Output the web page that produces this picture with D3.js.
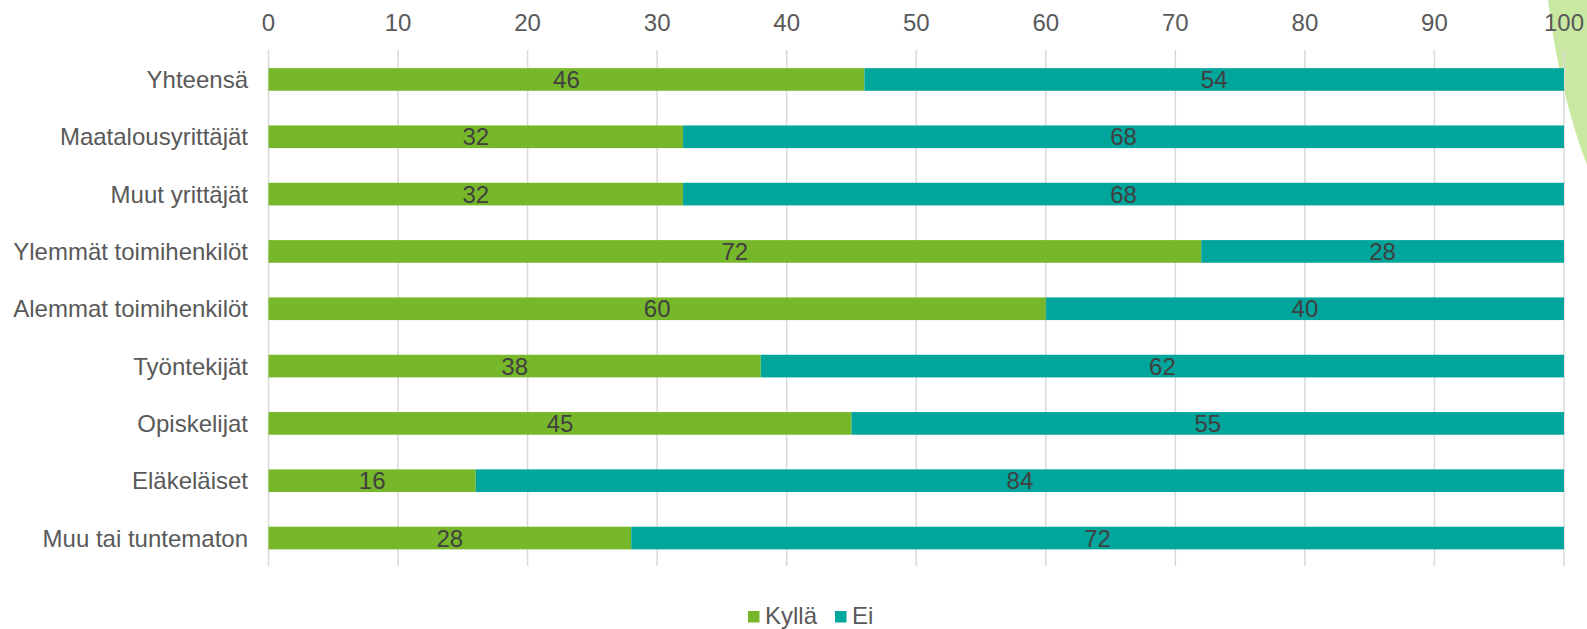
<!DOCTYPE html>
<html><head><meta charset="utf-8">
<script src="https://cdn.jsdelivr.net/npm/d3@7"></script>
<style>body{margin:0;background:#fff;}svg{display:block;}</style>
</head><body>
<svg id="c" width="1587" height="629"></svg>
<script>
const categories = ["Yhteensä","Maatalousyrittäjät","Muut yrittäjät","Ylemmät toimihenkilöt","Alemmat toimihenkilöt","Työntekijät","Opiskelijat","Eläkeläiset","Muu tai tuntematon"];
const kylla = [46,32,32,72,60,38,45,16,28];
const ei = [54,68,68,28,40,62,55,84,72];
const seriesNames = ["Kyllä","Ei"];
const seriesColors = ["#77b82a","#00a59b"];
const xTicks = [0,10,20,30,40,50,60,70,80,90,100];

const svg = d3.select("#c");
const font = "'Liberation Sans', Arial, sans-serif";
const fs = 24;

// decoration leaf at top right
svg.append("path")
  .attr("d","M1548,0 Q1560,95 1587,165 L1587,0 Z")
  .attr("fill","#c9e9a3");

const x = d3.scaleLinear().domain([0,100]).range([268.5,1564]);
const y = d3.scaleBand().domain(categories).range([50.8,566.7]).paddingInner(0.605).paddingOuter(0.3025);

// gridlines
svg.append("g").selectAll("line").data(xTicks).join("line")
  .attr("x1",d=>x(d)).attr("x2",d=>x(d)).attr("y1",50).attr("y2",566)
  .attr("stroke","#d9d9d9").attr("stroke-width",1.5);

// tick labels
svg.append("g").selectAll("text").data(xTicks).join("text")
  .attr("x",d=>x(d)).attr("y",30.5).attr("text-anchor","middle")
  .attr("font-family",font).attr("font-size",fs).attr("fill","#595959").text(d=>d);

const rows = categories.map((c,i)=>({c, vals:[kylla[i],ei[i]]}));
const segs = [];
rows.forEach(r=>{let s=0; r.vals.forEach((v,j)=>{segs.push({c:r.c,x0:s,x1:s+v,v,j}); s+=v;});});

svg.append("g").selectAll("rect").data(segs).join("rect")
  .attr("x",d=>x(d.x0)).attr("width",d=>x(d.x1)-x(d.x0))
  .attr("y",d=>y(d.c)).attr("height",y.bandwidth())
  .attr("fill",d=>seriesColors[d.j]);

svg.append("g").selectAll("text").data(segs).join("text")
  .attr("x",d=>(x(d.x0)+x(d.x1))/2).attr("y",d=>y(d.c)+y.bandwidth()/2)
  .attr("dy","0.36em").attr("text-anchor","middle")
  .attr("font-family",font).attr("font-size",fs).attr("fill","#404040").text(d=>d.v);

// category labels
svg.append("g").selectAll("text").data(categories).join("text")
  .attr("x",248).attr("y",d=>y(d)+y.bandwidth()/2).attr("dy","0.36em")
  .attr("text-anchor","end").attr("font-family",font).attr("font-size",fs).attr("fill","#595959").text(d=>d);

// legend
const leg = svg.append("g");
const legItems = [{n:seriesNames[0],c:seriesColors[0],x:748},{n:seriesNames[1],c:seriesColors[1],x:835}];
leg.selectAll("rect").data(legItems).join("rect")
  .attr("x",d=>d.x).attr("y",611).attr("width",11.5).attr("height",11.5).attr("fill",d=>d.c);
leg.selectAll("text").data(legItems).join("text")
  .attr("x",d=>d.x+17).attr("y",623.5)
  .attr("font-family",font).attr("font-size",fs).attr("fill","#595959").text(d=>d.n);
</script>
</body></html>
